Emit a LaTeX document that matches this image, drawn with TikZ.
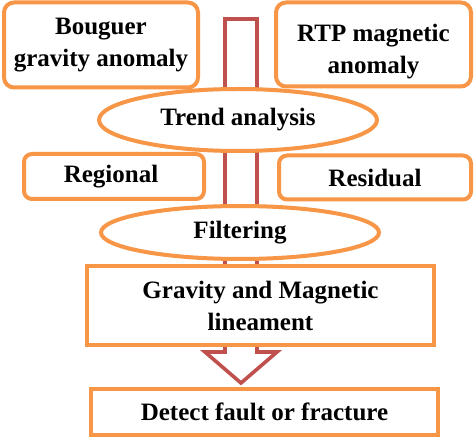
\documentclass[tikz,border=0pt]{standalone}
\usepackage{fontspec}
\setmainfont{Liberation Serif}
\usetikzlibrary{shapes.geometric}
\definecolor{boxorange}{HTML}{F79646}
\definecolor{arrowred}{HTML}{C0504D}
\begin{document}
\begin{tikzpicture}[x=1pt,y=-1pt,
  every node/.style={font=\fontsize{25}{32}\selectfont\bfseries, align=center, inner sep=0pt},
  roundbox/.style={draw=boxorange, line width=4pt, fill=white, rounded corners=10pt},
  squarebox/.style={draw=boxorange, line width=4pt, fill=white},
  ovalbox/.style={ellipse, draw=boxorange, line width=4pt, fill=white},
  blockarrow/.style={draw=arrowred, line width=3.6pt, fill=white, line join=miter}]
\useasboundingbox (0,0) rectangle (474,438);
\fill[white] (0,0) rectangle (474,438);
% big hollow arrow behind
\coordinate (sl) at (225,19);
\coordinate (sr) at (257,19);
\coordinate (tip) at (241,383);
\draw[blockarrow] (sl) -- (sr) -- (257,352) -- (277,352) -- (tip) -- (205,352) -- (225,352) -- cycle;
% boxes
\node[roundbox, minimum width=194pt, minimum height=85pt] (boug) at (101,45) {Bouguer\\gravity anomaly};
\node[roundbox, minimum width=195pt, minimum height=84pt] (rtp) at (373.5,44.5) {\rule{0pt}{31pt}RTP magnetic\\anomaly};
\node[ovalbox, minimum width=278pt, minimum height=62pt] (trend) at (238,120) {Trend analysis};
\node[roundbox, minimum width=180pt, minimum height=45pt, rounded corners=8pt] (regional) at (114,176.5) {Regional\hspace{6pt}};
\node[roundbox, minimum width=192pt, minimum height=44pt, rounded corners=8pt] (residual) at (375,177.5) {Residual};
\node[ovalbox, minimum width=278pt, minimum height=53pt] (filter) at (240,232.5) {Filtering};
\node[squarebox, minimum width=347pt, minimum height=79pt] (grav) at (260.5,305.5) {Gravity and Magnetic\hspace{4pt}\\lineament};
\node[squarebox, minimum width=347pt, minimum height=46pt] (detect) at (264.5,412) {Detect fault or fracture};
\end{tikzpicture}
\end{document}
